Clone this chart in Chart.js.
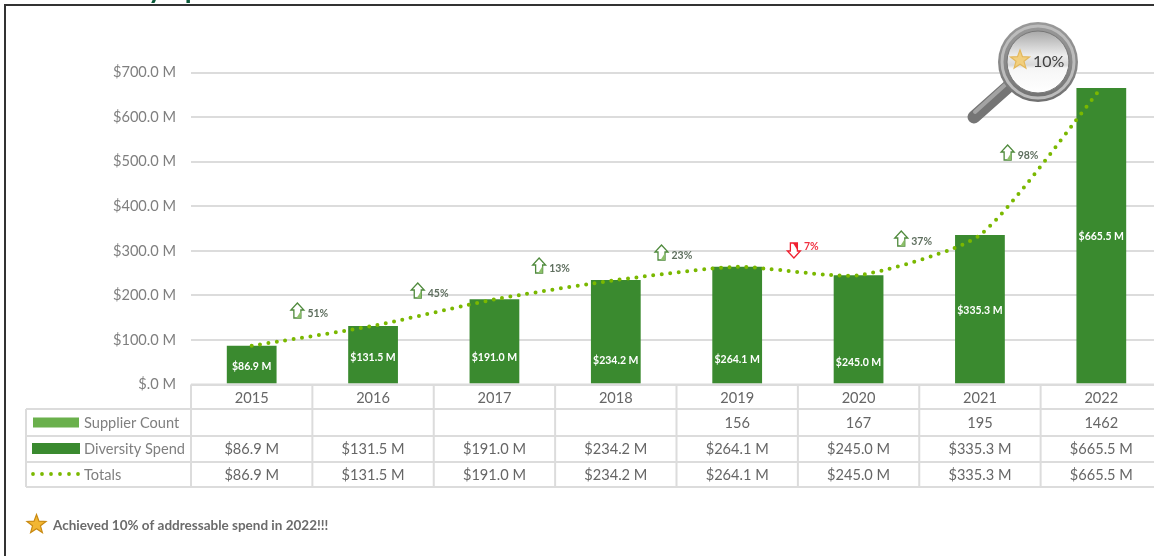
<!DOCTYPE html>
<html>
<head>
<meta charset="utf-8">
<title>Diversity Spend</title>
<script src="https://cdn.jsdelivr.net/npm/chart.js@4"></script>
<style>
  html, body { margin: 0; padding: 0; background: #fff; width: 1154px; height: 556px; overflow: hidden; }
  canvas { display: block; filter: blur(0.45px); }
</style>
</head>
<body>
<canvas id="spendChart" width="1162" height="556" style="width:1162px;height:556px"></canvas>
<script>
// DATA
const years = ["2015","2016","2017","2018","2019","2020","2021","2022"];
const diversitySpend = [86.9,131.5,191.0,234.2,264.1,245.0,335.3,665.5];
const totals = [86.9,131.5,191.0,234.2,264.1,245.0,335.3,665.5];
const supplierCount = [null,null,null,null,156,167,195,1462];
const yTicks = ["$.0 M","$100.0 M","$200.0 M","$300.0 M","$400.0 M","$500.0 M","$600.0 M","$700.0 M"];
const growth = ["51%","45%","13%","23%","7%","37%","98%"];
const growthDown = [false,false,false,false,true,false,false];
const title = "Diversity Spend";
const footnote = "Achieved 10% of addressable spend in 2022!!!";

// HAND PLACED STUFF (pixels, the source picture has these dragged around by hand)
const barLabelLift = [18,27,27,24,25,22,74,148];
const growthDx = [-15,-16,-16,-15,-4,-18,-33];
const growthY = [311,291,266,253,250,239,153];

const GREY = "#7f7f7f";
const TEXT = "#666666";
const LINE = "#dcdcdc";
const DARK = "#3a8a2f";
const LIGHT = "#6ab04c";
const DOTS = "#7ab800";
const fmt = v => v == null ? "" : "$" + v.toFixed(1) + " M";

function star(ctx, x, y, r, fill, stroke) {
  ctx.beginPath();
  for (let i = 0; i < 10; i++) {
    const a = -Math.PI / 2 + i * Math.PI / 5;
    const d = i % 2 ? r * 0.42 : r;
    ctx.lineTo(x + Math.cos(a) * d, y + Math.sin(a) * d);
  }
  ctx.closePath();
  ctx.fillStyle = fill;
  ctx.fill();
  ctx.lineWidth = 1.2;
  ctx.strokeStyle = stroke;
  ctx.stroke();
}

function arrow(ctx, x, y, down, color, fill) {
  ctx.save();
  ctx.translate(x, y);
  if (down) ctx.scale(1, -1);
  ctx.beginPath();
  ctx.moveTo(0, -8);
  ctx.lineTo(6.5, -1);
  ctx.lineTo(3.5, -1);
  ctx.lineTo(3.5, 7);
  ctx.lineTo(-3.5, 7);
  ctx.lineTo(-3.5, -1);
  ctx.lineTo(-6.5, -1);
  ctx.closePath();
  ctx.fillStyle = "#fff";
  ctx.fill();
  ctx.lineWidth = 1.3;
  ctx.strokeStyle = color;
  ctx.stroke();
  ctx.beginPath();
  ctx.moveTo(3.5, 0);
  ctx.lineTo(3.5, 7);
  ctx.lineTo(-1, 7);
  ctx.closePath();
  ctx.fillStyle = fill;
  ctx.fill();
  ctx.restore();
}

function magnifier(ctx) {
  const cx = 1038, cy = 62;
  ctx.save();
  ctx.lineCap = "round";
  ctx.lineWidth = 13;
  ctx.strokeStyle = "#757575";
  ctx.beginPath();
  ctx.moveTo(1010, 85);
  ctx.lineTo(974, 117);
  ctx.stroke();
  ctx.lineWidth = 4;
  ctx.strokeStyle = "#a3a3a3";
  ctx.beginPath();
  ctx.moveTo(1006, 84);
  ctx.lineTo(975, 112);
  ctx.stroke();

  let g = ctx.createLinearGradient(cx, cy - 41, cx, cy + 41);
  g.addColorStop(0, "#9a9a9a");
  g.addColorStop(0.5, "#8a8a8a");
  g.addColorStop(1, "#6f6f6f");
  ctx.fillStyle = g;
  ctx.beginPath();
  ctx.arc(cx, cy, 40, 0, Math.PI * 2);
  ctx.fill();

  ctx.lineWidth = 3;
  ctx.strokeStyle = "#bcbcbc";
  ctx.beginPath();
  ctx.arc(cx, cy, 36, 0, Math.PI * 2);
  ctx.stroke();

  g = ctx.createLinearGradient(cx, cy - 31, cx, cy + 31);
  g.addColorStop(0, "#a8a8a8");
  g.addColorStop(0.4, "#ededed");
  g.addColorStop(0.55, "#d8d8d8");
  g.addColorStop(0.6, "#f6f6f6");
  g.addColorStop(1, "#ffffff");
  ctx.fillStyle = g;
  ctx.beginPath();
  ctx.arc(cx, cy, 31, 0, Math.PI * 2);
  ctx.fill();
  ctx.lineWidth = 1;
  ctx.strokeStyle = "#777";
  ctx.stroke();

  star(ctx, 1020, 60, 10, "#f2cf7e", "#e3b85c");
  ctx.fillStyle = "#404040";
  ctx.font = "16px Lato";
  ctx.textAlign = "left";
  ctx.textBaseline = "middle";
  ctx.fillText("10%", 1033, 62);
  ctx.restore();
}

const extras = {
  id: "extras",
  afterDraw(chart) {
    const ctx = chart.ctx;
    const x = chart.scales.x;
    const y = chart.scales.y;
    const step = x.getPixelForValue(1) - x.getPixelForValue(0);
    const left = x.left;
    const y0 = y.getPixelForValue(0);

    // value labels inside the bars
    ctx.save();
    ctx.textAlign = "center";
    ctx.textBaseline = "middle";
    ctx.font = "bold 10.5px Lato";
    ctx.fillStyle = "#fff";
    diversitySpend.forEach((v, i) => {
      ctx.fillText(fmt(v), x.getPixelForValue(i), y0 - barLabelLift[i]);
    });

    // growth arrows between the years
    growth.forEach((g, i) => {
      const ax = x.getPixelForValue(i) + step / 2 + growthDx[i];
      const down = growthDown[i];
      arrow(ctx, ax, growthY[i], down, down ? "#f02030" : "#4f8a3c", down ? "#f02030" : "#8cc06a");
      ctx.textAlign = "left";
      ctx.font = "bold 10.5px Lato";
      ctx.fillStyle = down ? "#f03040" : "#5f6f5f";
      ctx.fillText(g, ax + 10, growthY[i] + (down ? -3 : 3));
    });

    // data table under the chart
    const rows = [409, 436, 462, 487];
    ctx.strokeStyle = LINE;
    ctx.lineWidth = 2;
    ctx.beginPath();
    ctx.moveTo(left, y0); ctx.lineTo(x.right, y0);
    rows.forEach(r => { ctx.moveTo(26, r); ctx.lineTo(x.right, r); });
    ctx.moveTo(26, 409); ctx.lineTo(26, 487);
    years.forEach((_, i) => {
      const vx = left + i * step;
      ctx.moveTo(vx, y0); ctx.lineTo(vx, 487);
    });
    ctx.stroke();

    ctx.font = "14.6px Lato";
    ctx.fillStyle = TEXT;
    ctx.textAlign = "center";
    years.forEach((_, i) => {
      const cx = x.getPixelForValue(i);
      if (supplierCount[i] != null) ctx.fillText(supplierCount[i], cx, 423);
      ctx.fillText(fmt(diversitySpend[i]), cx, 449);
      ctx.fillText(fmt(totals[i]), cx, 475);
    });

    // legend keys in the first column of the table
    ctx.fillStyle = LIGHT;
    ctx.fillRect(33, 417.5, 46, 10);
    ctx.fillStyle = DARK;
    ctx.fillRect(32, 443, 48, 11);
    ctx.fillStyle = DOTS;
    for (let k = 0; k < 6; k++) {
      ctx.beginPath();
      ctx.arc(33 + k * 9, 474, 1.9, 0, Math.PI * 2);
      ctx.fill();
    }
    ctx.textAlign = "left";
    ctx.fillStyle = GREY;
    ctx.fillText("Supplier Count", 84, 423);
    ctx.fillText("Diversity Spend", 84, 449);
    ctx.fillText("Totals", 84, 475);

    // footnote
    star(ctx, 36.5, 524.5, 10, "#f2b632", "#c98a12");
    ctx.font = "bold 13.5px Lato";
    ctx.fillStyle = "#6b6b6b";
    ctx.fillText(footnote, 53, 526);

    magnifier(ctx);

    // slide title, only the descenders are left in the crop
    ctx.font = "bold 28px Lato";
    ctx.fillStyle = "#0b5a3a";
    ctx.textBaseline = "alphabetic";
    ctx.fillText(title, 148 - ctx.measureText("Diversit").width, -2);

    // frame of the slide
    ctx.strokeStyle = "#333";
    ctx.lineWidth = 2;
    ctx.beginPath();
    ctx.moveTo(5, 556); ctx.lineTo(5, 5); ctx.lineTo(1162, 5);
    ctx.stroke();
    ctx.restore();
  }
};

new Chart(document.getElementById("spendChart"), {
  data: {
    labels: years,
    datasets: [
      {
        type: "line",
        label: "Totals",
        data: totals,
        order: 0,
        borderColor: DOTS,
        borderWidth: 4,
        borderDash: [0, 8.5],
        borderCapStyle: "round",
        pointRadius: 0,
        tension: 0.2,
        fill: false
      },
      {
        type: "bar",
        label: "Diversity Spend",
        data: diversitySpend,
        order: 1,
        backgroundColor: DARK,
        barPercentage: 0.41,
        categoryPercentage: 1
      }
    ]
  },
  options: {
    responsive: false,
    animation: false,
    devicePixelRatio: 1,
    layout: { autoPadding: false, padding: { top: 72.5, left: 0, right: 0, bottom: 0 } },
    plugins: { legend: { display: false }, tooltip: { enabled: false } },
    scales: {
      x: {
        afterFit: s => { s.height = 556 - 72.5 - 312; },
        grid: { display: false, tickLength: 0 },
        border: { display: false },
        ticks: { color: TEXT, font: { family: "Lato", size: 14.6 }, padding: 5, maxRotation: 0 }
      },
      y: {
        min: 0,
        max: 700,
        afterFit: s => { s.width = 191; },
        grid: { color: LINE, lineWidth: 2, drawTicks: false },
        border: { display: false },
        ticks: {
          stepSize: 100,
          padding: 15,
          color: GREY,
          font: { family: "Lato", size: 14.6 },
          callback: (v, i) => yTicks[i]
        }
      }
    }
  },
  plugins: [extras]
});
</script>
</body>
</html>
